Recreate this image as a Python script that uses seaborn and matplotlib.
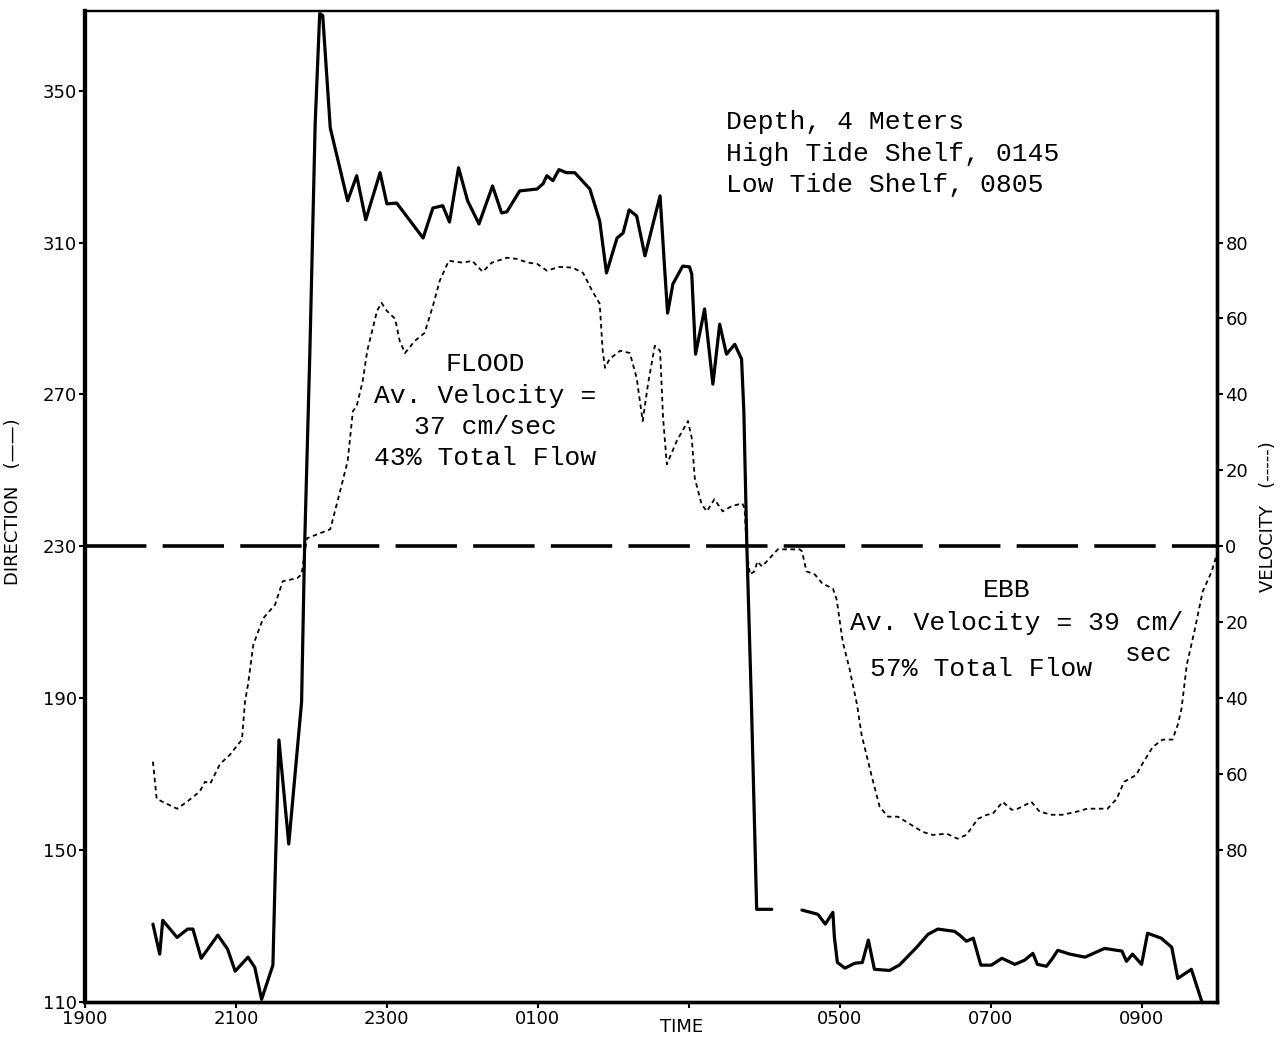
import pandas as pd
import seaborn as sns
import matplotlib.pyplot as plt

# hours after 1900, direction in degrees (solid line, gap after 0410)
dir_time_a = [0.90, 0.99, 1.03, 1.22, 1.36, 1.43, 1.54, 1.76, 1.89, 1.99, 2.16, 2.25,
              2.34, 2.49, 2.52, 2.57, 2.70, 2.87, 2.91, 2.98, 3.05, 3.11, 3.15, 3.25,
              3.48, 3.60, 3.72, 3.91, 4.00, 4.13, 4.48, 4.61, 4.74, 4.83, 4.95, 5.07,
              5.22, 5.40, 5.52, 5.59, 5.76, 5.99, 6.07, 6.12, 6.20, 6.28, 6.38, 6.49,
              6.69, 6.82, 6.91, 7.05, 7.13, 7.21, 7.31, 7.42, 7.62, 7.68, 7.72, 7.79,
              7.92, 8.01, 8.04, 8.09, 8.21, 8.32, 8.41, 8.50, 8.61, 8.70, 8.73, 8.77,
              8.83, 8.90, 9.10]
dir_deg_a = [130.5, 122.6, 131.5, 127.0, 129.2, 129.2, 121.5, 127.6, 123.9, 118.1, 121.8, 119.1,
             110.7, 119.7, 143.4, 179.0, 151.6, 189.0, 230.0, 281.4, 341.3, 370.3, 369.8, 340.2,
             321.0, 327.6, 316.0, 328.4, 320.2, 320.4, 311.2, 319.1, 319.7, 315.4, 329.7, 321.0,
             314.9, 324.9, 317.8, 318.1, 323.6, 324.1, 325.5, 327.6, 326.3, 329.2, 328.4, 328.4,
             324.1, 315.7, 302.0, 311.2, 312.5, 318.6, 317.0, 306.5, 322.3, 303.3, 291.4, 299.1,
             303.8, 303.6, 301.7, 280.6, 292.5, 272.7, 288.5, 280.6, 283.2, 279.3, 265.6, 230.0,
             189.0, 134.4, 134.4]
dir_time_b = [9.50, 9.71, 9.81, 9.91, 9.93, 9.97, 10.07, 10.20, 10.30, 10.38, 10.46, 10.66,
              10.79, 11.02, 11.17, 11.30, 11.52, 11.59, 11.68, 11.77, 11.87, 12.01, 12.15, 12.32,
              12.45, 12.56, 12.62, 12.74, 12.81, 12.89, 13.05, 13.25, 13.51, 13.74, 13.80, 13.88,
              14.00, 14.08, 14.26, 14.40, 14.48, 14.66, 14.81]
dir_deg_b = [134.2, 133.1, 130.5, 133.6, 127.0, 120.4, 118.9, 120.2, 120.4, 126.3, 118.6, 118.3,
             119.7, 124.4, 127.8, 129.2, 128.6, 127.6, 126.0, 126.8, 119.7, 119.7, 121.5, 119.9,
             121.0, 122.8, 119.9, 119.4, 121.2, 123.6, 122.6, 121.8, 124.1, 123.4, 120.7, 122.6,
             119.9, 128.1, 126.8, 124.4, 116.2, 118.6, 109.4]

# velocity in cm/sec, flood positive, ebb negative (dotted line)
vel_time = [0.90, 0.95, 1.03, 1.22, 1.35, 1.52, 1.59, 1.66, 1.79, 1.92, 2.08, 2.12,
            2.16, 2.23, 2.36, 2.52, 2.62, 2.81, 2.87, 2.94, 3.11, 3.25, 3.38, 3.48,
            3.55, 3.60, 3.68, 3.74, 3.87, 3.93, 4.00, 4.11, 4.17, 4.24, 4.37, 4.50,
            4.61, 4.70, 4.82, 5.01, 5.13, 5.27, 5.39, 5.59, 5.72, 5.87, 5.99, 6.12,
            6.29, 6.46, 6.60, 6.72, 6.82, 6.86, 6.89, 6.95, 7.09, 7.22, 7.31, 7.39,
            7.46, 7.55, 7.62, 7.66, 7.71, 7.84, 7.99, 8.04, 8.08, 8.17, 8.24, 8.34,
            8.45, 8.57, 8.71, 8.74, 8.77, 8.81, 8.87, 8.91, 8.97, 9.07, 9.18, 9.47,
            9.50, 9.56, 9.67, 9.77, 9.91, 9.96, 10.04, 10.13, 10.23, 10.29, 10.42, 10.53,
            10.64, 10.77, 10.95, 11.10, 11.23, 11.42, 11.56, 11.68, 11.83, 11.95, 12.03, 12.16,
            12.28, 12.36, 12.54, 12.65, 12.81, 12.95, 13.14, 13.28, 13.55, 13.67, 13.77, 13.93,
            14.01, 14.15, 14.28, 14.41, 14.48, 14.53, 14.60, 14.70, 14.81, 14.93, 14.99]
vel_cms = [-56.7, -66.5, -67.3, -69.1, -67.3, -64.6, -62.0, -62.5, -57.3, -54.9, -50.9, -40.9,
           -36.4, -25.9, -19.0, -15.3, -9.2, -8.4, -7.4, 2.1, 3.4, 4.5, 14.5, 22.4,
           35.6, 36.9, 43.5, 51.5, 62.0, 64.1, 62.0, 59.9, 54.1, 50.9, 54.1, 56.2,
           63.3, 69.9, 75.2, 74.7, 75.2, 72.3, 74.7, 76.0, 75.7, 74.7, 74.4, 72.6,
           73.6, 73.4, 72.0, 67.3, 63.9, 51.5, 47.0, 49.3, 51.5, 50.9, 44.3, 33.0,
           42.7, 52.8, 51.5, 33.8, 21.6, 27.7, 33.0, 28.5, 17.9, 11.1, 9.2, 12.4,
           9.2, 10.6, 11.3, 10.0, -1.3, -7.4, -6.6, -4.0, -5.3, -3.2, -0.8, -0.8,
           -1.3, -6.6, -7.4, -9.8, -11.1, -14.0, -25.1, -32.2, -41.7, -49.6, -60.2, -68.6,
           -71.2, -71.2, -73.4, -75.2, -76.0, -75.7, -77.0, -76.0, -71.8, -70.7, -70.4, -67.3,
           -69.4, -69.1, -67.3, -69.9, -70.7, -70.7, -69.9, -69.1, -69.1, -66.5, -62.0, -60.2,
           -57.3, -52.8, -50.9, -50.9, -47.0, -42.7, -31.1, -22.4, -11.9, -6.6, -2.6]

time_ticks = [0, 2, 4, 6, 8, 10, 12, 14]
time_labels = ['1900', '2100', '2300', '0100', '', '0500', '0700', '0900']
dir_ticks = [110, 150, 190, 230, 270, 310, 350]
vel_ticks = [-80, -60, -40, -20, 0, 20, 40, 60, 80]

sns.set_theme(style="ticks")
plt.rcParams['font.family'] = ['DejaVu Sans']
plt.rcParams['text.color'] = 'black'
plt.rcParams['axes.labelcolor'] = 'black'

df_dir = pd.DataFrame({
    'time': dir_time_a + dir_time_b,
    'direction': dir_deg_a + dir_deg_b,
    'seg': [0] * len(dir_time_a) + [1] * len(dir_time_b),
})
df_vel = pd.DataFrame({'time': vel_time, 'velocity': vel_cms})

fig = plt.figure(figsize=(12.8, 10.41), dpi=100)
ax = fig.add_axes([0.0664, 0.0375, 0.8844, 0.952])

ax.axhline(230, color='black', lw=2.6, ls=(0, (17, 4.5)), zorder=1)
sns.lineplot(data=df_dir, x='time', y='direction', units='seg', estimator=None,
             sort=False, color='black', lw=2.3, ax=ax, zorder=3)

ax.set_xlim(0, 15)
ax.set_ylim(110, 371)
ax.set_xticks(time_ticks)
ax.set_xticklabels(time_labels)
ax.set_yticks(dir_ticks)
ax.tick_params(axis='both', direction='out', length=4, width=1.5, labelsize=13,
               colors='black', pad=2)
ax.set_xlabel('TIME', fontsize=13)
ax.xaxis.set_label_coords(0.527, -0.016)
ax.set_ylabel('DIRECTION   (——)', fontsize=13)
ax.yaxis.set_label_coords(-0.056, 0.505)

ax2 = ax.twinx()
sns.lineplot(data=df_vel, x='time', y='velocity', sort=False, color='black',
             lw=1.3, ls=(0, (2.5, 2)), ax=ax2)
ax2.set_ylim(110 - 230, 371 - 230)
ax2.set_yticks(vel_ticks)
ax2.set_yticklabels([str(abs(v)) for v in vel_ticks])
ax2.tick_params(axis='y', direction='out', length=4, width=1.5, labelsize=13,
                colors='black', pad=2)
ax2.set_ylabel('VELOCITY   (-----)', fontsize=13)
ax2.yaxis.set_label_coords(1.037, 0.49)

for a in (ax, ax2):
    for side, w in (('left', 3), ('bottom', 2.4), ('right', 2.4), ('top', 1.6)):
        a.spines[side].set_visible(True)
        a.spines[side].set_linewidth(w)
        a.spines[side].set_color('black')

mono = 'Liberation Mono'
ax.text(8.49, 333.4, 'Depth, 4 Meters\nHigh Tide Shelf, 0145\nLow Tide Shelf, 0805',
        family=mono, fontsize=19, ha='left', va='center', linespacing=1.38)
ax.text(5.30, 265.6, 'FLOOD\nAv. Velocity =\n37 cm/sec\n43% Total Flow',
        family=mono, fontsize=19, ha='center', va='center', linespacing=1.38,
        multialignment='center')
ax.text(12.21, 218.6, 'EBB', family=mono, fontsize=19, ha='center', va='center')
ax.text(12.34, 209.9, 'Av. Velocity = 39 cm/', family=mono, fontsize=19,
        ha='center', va='center')
ax.text(14.10, 201.7, 'sec', family=mono, fontsize=19, ha='center', va='center')
ax.text(11.88, 197.8, '57% Total Flow', family=mono, fontsize=19,
        ha='center', va='center')

fig.savefig('out.png', dpi=100)
